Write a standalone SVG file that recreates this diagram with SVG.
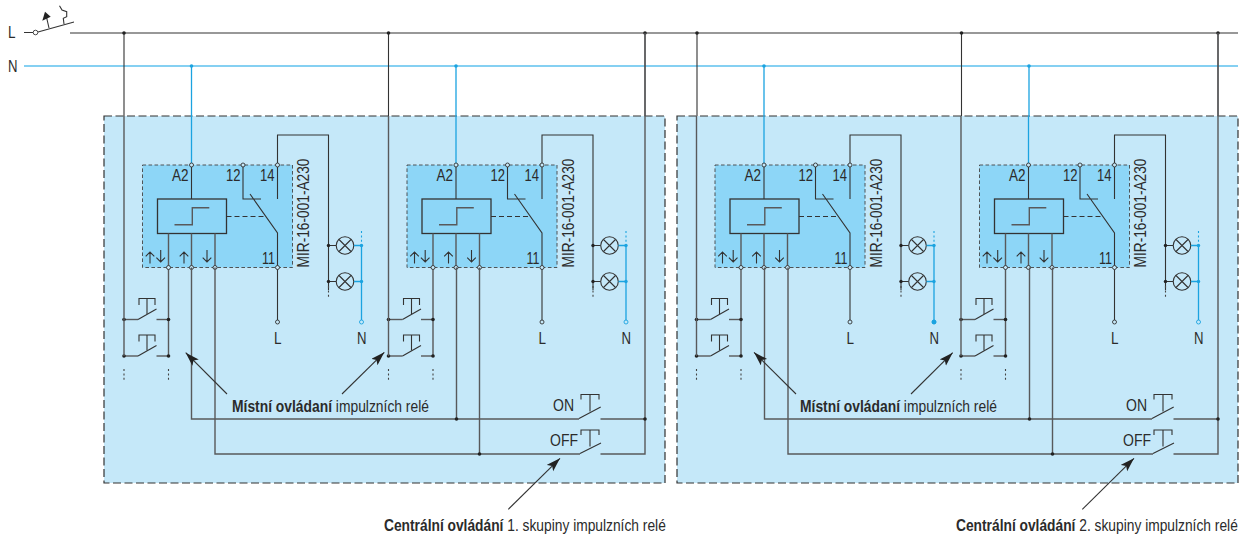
<svg xmlns="http://www.w3.org/2000/svg" width="1241" height="540" viewBox="0 0 1241 540">
<style>
.t{font-family:"Liberation Sans",Arial,sans-serif;fill:#2b2b2b;font-size:16.5px}
.l{font-family:"Liberation Sans",Arial,sans-serif;fill:#2b2b2b;font-size:16px}
.w{fill:none;stroke:#333;stroke-width:1.1}
.k{fill:none;stroke:#58595b;stroke-width:1.4}
.b{fill:none;stroke:#1ba3e0;stroke-width:1.3}
.bb{fill:none;stroke:#5cc0ee;stroke-width:1.6}
.dk{fill:#222}
.db{fill:#1ba3e0}
.o{fill:#c5e8f9;stroke:#333;stroke-width:.9}
.ob{fill:#c5e8f9;stroke:#1ba3e0;stroke-width:.9}
.oc{fill:none;stroke:#444;stroke-dasharray:2 2.4;stroke-width:1.1}
.bc{fill:none;stroke:#1ba3e0;stroke-dasharray:2 2.4;stroke-width:1.1}
.p{fill:#c5e8f9;stroke:#333;stroke-width:1.2;stroke-dasharray:8 3.5}
.r{fill:#8dd6f7;stroke:#444;stroke-width:.9;stroke-dasharray:3.6 2.4}
.arr{fill:#222}
</style>
<defs>
<marker id="ah" markerWidth="15" markerHeight="10" refX="14" refY="4.500" orient="auto" markerUnits="userSpaceOnUse"><path d="M0 0L14 4.500L0 9L3 4.500Z" class="arr"/></marker>
<g id="btn">
<path class="w" d="M139 305V298.500H155V305M147 298.500V314"/>
<path class="k" d="M124 319.500H138"/><path class="w" d="M138 319.500L156.500 309"/><path class="k" d="M156.500 319.500H168.500"/>
<circle cx="124" cy="319.500" r="1.800" class="dk"/><circle cx="168.500" cy="319.500" r="1.800" class="dk"/>
</g>
<g id="module">
<path class="b" d="M191.500 116V165"/>
<rect class="r" x="142.500" y="165" width="150" height="102.500"/>
<path class="w" d="M191.500 165V199M243 165V199H261M250 194L277.500 233V267.500M277.500 165V199"/>
<path class="w" d="M277.500 165V135H328.500V290"/>
<rect x="157.500" y="199" width="69" height="34.500" fill="none" stroke="#333" stroke-width="1.300"/>
<path class="k" d="M174.500 224.700H192.300V207.700H209.300"/>
<path d="M226.500 216.500H266" fill="none" stroke="#333" stroke-width="1" stroke-dasharray="5 3"/>
<path class="k" d="M168.500 233.500V356M191.500 233.500V267.500M215 233.500V267.500"/>
<path class="w" d="M277.500 267.500V322"/>
<circle cx="191.500" cy="165" r="2" class="o"/><circle cx="243" cy="165" r="2" class="o"/><circle cx="277.500" cy="165" r="2" class="o"/>
<circle cx="168.500" cy="267.500" r="2" class="o"/><circle cx="191.500" cy="267.500" r="2" class="o"/><circle cx="215" cy="267.500" r="2" class="o"/><circle cx="277.500" cy="267.500" r="2" class="o"/>
<circle cx="277.500" cy="322" r="2" class="o"/>
<path class="w" stroke-width="1.200" d="M150 263.500V252M145.700 256.300L150 252L154.300 256.300M160.700 250V262M156.400 257.700L160.700 262L165 257.700M184 263.500V252M179.700 256.300L184 252L188.300 256.300M207 250V262M202.700 257.700L207 262L211.300 257.700"/>
<text class="t" x="172" y="181" textLength="16.500" lengthAdjust="spacingAndGlyphs">A2</text>
<text class="t" x="226" y="181" textLength="14.500" lengthAdjust="spacingAndGlyphs">12</text>
<text class="t" x="260" y="181" textLength="14.500" lengthAdjust="spacingAndGlyphs">14</text>
<text class="t" x="262" y="264" textLength="13" lengthAdjust="spacingAndGlyphs">11</text>
<text class="t" font-size="17" style="font-size:17px" transform="translate(309 267.500) rotate(-90)" textLength="109" lengthAdjust="spacingAndGlyphs">MIR-16-001-A230</text>
<path class="w" d="M328.500 245.500H336M328.500 281.500H336"/>
<circle cx="328.500" cy="245.500" r="1.700" class="dk"/><circle cx="328.500" cy="281.500" r="1.700" class="dk"/>
<path class="oc" d="M328.500 286V298"/>
<circle cx="345" cy="245.500" r="8.800" fill="none" stroke="#333" stroke-width="1.100"/><path class="w" d="M339 239.500L351 251.500M351 239.500L339 251.500"/>
<circle cx="345" cy="281.500" r="8.800" fill="none" stroke="#333" stroke-width="1.100"/><path class="w" d="M339 275.500L351 287.500M351 275.500L339 287.500"/>
<path class="b" d="M354 245.500H361.500M354 281.500H361.500M361.500 245.500V322"/>
<path class="bc" d="M361.500 231V245"/>
<circle cx="361.500" cy="245.500" r="1.700" class="db"/><circle cx="361.500" cy="281.500" r="1.700" class="db"/>
<circle cx="361.500" cy="322" r="2" class="ob"/>
<text class="t" x="274" y="344" textLength="7.500" lengthAdjust="spacingAndGlyphs">L</text>
<text class="t" x="357" y="344" textLength="9.500" lengthAdjust="spacingAndGlyphs">N</text>
<use href="#btn"/><use href="#btn" y="36.500"/>
<path class="k" d="M124 116V356"/>
<path class="oc" d="M124 369V381M168.500 369V381"/>
</g>
<g id="central">
<path class="k" d="M191.500 267.500V419H579M215 267.500V454H580M456.500 267.500V419M479.500 267.500V454M600.500 419H645M600.500 454H645V33"/>
<path class="w" stroke-width="1.200" d="M579 418.500L600.700 407M580 453.500L601 443"/>
<path class="w" stroke-width="1.200" d="M581 399.500V394.500H599V399.500M590 394.500V411.500M581 435V430H599V435M590 430V446.500"/>
<circle cx="456.500" cy="419" r="1.800" class="dk"/><circle cx="479.500" cy="454" r="1.800" class="dk"/><circle cx="645" cy="419" r="1.800" class="dk"/>
<text class="t" x="553" y="411" textLength="21" lengthAdjust="spacingAndGlyphs">ON</text>
<text class="t" x="550" y="446" textLength="28" lengthAdjust="spacingAndGlyphs">OFF</text>
</g>
</defs>
<g id="panel-1"><rect class="p" x="104" y="116" width="561" height="367"/></g>
<g id="panel-2"><rect class="p" x="677" y="116" width="561" height="367"/></g>
<g id="source">
<text class="t" x="8" y="38" textLength="7.500" lengthAdjust="spacingAndGlyphs">L</text>
<text class="t" x="8" y="72" textLength="9.500" lengthAdjust="spacingAndGlyphs">N</text>
<path class="w" d="M24 32.500H33M38 32L74 22M49 28L46.700 18M59.500 5.700L62 10L66.700 11.700V16.700L63.300 18.300L64 24"/>
<path class="dk" d="M45 11.700L42.300 20.700L50.700 16.700Z"/>
<circle cx="35.500" cy="32.500" r="2.300" fill="#fff" stroke="#333" stroke-width=".9"/>
</g>
<g id="connectors">
<path class="w" d="M70 33H1238"/>
<path class="bb" d="M24 66H1238"/>
<path class="w" d="M124 33V116M388.500 33V116M645 33V116M697 33V116M961.500 33V116M1218 33V116"/>
<path class="b" d="M191.500 66V116M456 66V116M764 66V116M1029 66V116"/>
<g class="dk"><circle cx="124" cy="33" r="1.800"/><circle cx="388.500" cy="33" r="1.800"/><circle cx="645" cy="33" r="1.800"/><circle cx="697" cy="33" r="1.800"/><circle cx="961.500" cy="33" r="1.800"/><circle cx="1218" cy="33" r="1.800"/></g>
<g class="db"><circle cx="191.500" cy="66" r="1.800"/><circle cx="456" cy="66" r="1.800"/><circle cx="764" cy="66" r="1.800"/><circle cx="1029" cy="66" r="1.800"/></g>
</g>
<g id="relay-1"><use href="#module"/></g>
<g id="relay-2"><use href="#module" x="264.500"/></g>
<g id="relay-3"><use href="#module" x="572.500"/><circle cx="934" cy="322" r="2.300" class="db"/></g>
<g id="relay-4"><use href="#module" x="837"/></g>
<g id="central-1"><use href="#central"/></g>
<g id="central-2"><use href="#central" x="573"/></g>
<g id="labels">
<path class="w" d="M227 394L185.700 352.700" marker-end="url(#ah)"/>
<path class="w" d="M342 394L384.300 352.300" marker-end="url(#ah)"/>
<path class="w" d="M796 394L754 352.300" marker-end="url(#ah)"/>
<path class="w" d="M911 394L952.700 352.700" marker-end="url(#ah)"/>
<path class="w" d="M508.300 509.300L560 458.300" marker-end="url(#ah)"/>
<path class="w" d="M1082.300 509.300L1134 458.300" marker-end="url(#ah)"/>
<text class="l" transform="translate(232 411.500) scale(.866 1)"><tspan font-weight="bold">Místní ovládaní</tspan> impulzních relé</text>
<text class="l" transform="translate(800 411.500) scale(.866 1)"><tspan font-weight="bold">Místní ovládaní</tspan> impulzních relé</text>
<text class="l" transform="translate(384 531) scale(.862 1)"><tspan font-weight="bold">Centrální ovládání</tspan> 1. skupiny impulzních relé</text>
<text class="l" transform="translate(956 531) scale(.862 1)"><tspan font-weight="bold">Centrální ovládání</tspan> 2. skupiny impulzních relé</text>
</g>
</svg>
